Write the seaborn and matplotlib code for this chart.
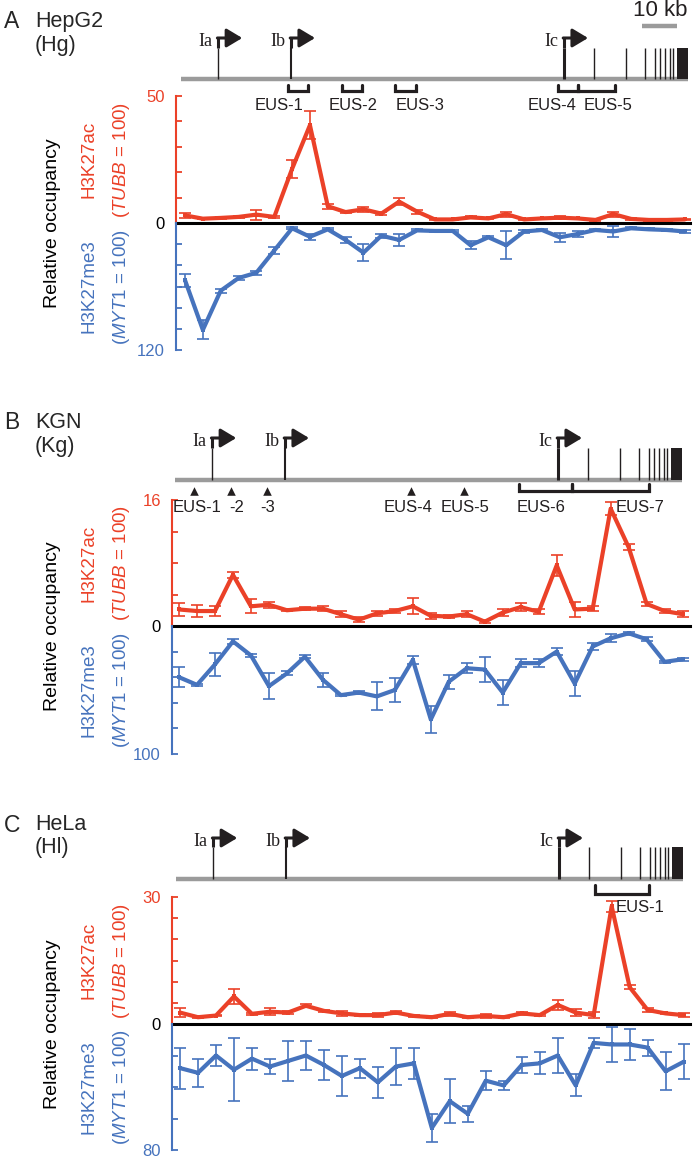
# H3K27ac / H3K27me3 occupancy along the locus in three cell lines (HepG2, KGN, HeLa).

import numpy as np
import matplotlib
matplotlib.use('Agg')
import matplotlib.pyplot as plt
from matplotlib.patches import Rectangle
import seaborn as sns

RED = '#EB4128'
BLUE = '#4673BD'
GRAY = '#9B9B9B'
INK = '#231F20'

W, H = 696, 1159

# ── data ─────────────────────────────────────────────────────────────────
probe = np.arange(1, 30)

hg_ac = [3.0, 1.7, 2.0, 2.4, 3.3, 2.4, 21.3, 38.5, 6.6, 4.3, 5.4, 3.7, 8.4, 4.5, 1.4,
         1.4, 2.2, 1.8, 3.5, 1.4, 1.8, 2.1, 1.8, 1.2, 3.5, 1.6, 1.2, 1.2, 1.4]
hg_ac_err = [1.0, 0.3, 0.3, 0.3, 2.0, 0.4, 3.4, 5.5, 1.0, 0.3, 1.0, 0.5, 1.3, 0.8, 0.3,
             0.3, 0.4, 0.3, 1.0, 0.3, 0.3, 0.5, 0.3, 0.3, 1.0, 0.3, 0.3, 0.3, 0.3]
hg_me3 = [54, 101, 64, 52, 47, 26, 5, 13, 6, 16, 28, 12, 16, 7, 7.5,
          7.5, 21, 13.5, 21, 8, 6.6, 13.5, 10.4, 6.6, 8, 5, 6, 6.6, 8]
hg_me3_err = [6, 9, 2, 2, 2, 3, 1, 3, 1, 3, 8, 2, 6, 1, 1,
              1, 4, 1, 13, 1, 1, 4, 3, 1, 5, 1, 1, 1, 1]

kg_ac = [2.1, 1.9, 1.9, 6.5, 2.5, 2.7, 2.0, 2.2, 2.2, 1.5, 0.8, 1.6, 1.9, 2.5, 1.3,
         1.2, 1.5, 0.55, 1.7, 2.4, 1.8, 7.7, 2.1, 2.2, 14.9, 10.0, 2.8, 1.9, 1.5]
kg_ac_err = [0.8, 0.8, 0.6, 0.4, 0.9, 0.4, 0.1, 0.2, 0.3, 0.4, 0.3, 0.3, 0.2, 1.0, 0.4,
             0.2, 0.4, 0.2, 0.4, 0.5, 0.3, 1.3, 0.9, 0.3, 0.8, 0.4, 0.3, 0.2, 0.4]
kg_me3 = [40, 46, 30, 12, 23, 47, 37, 24, 42, 54, 52, 55, 50, 26.5, 73,
          43.5, 33, 34, 52, 29, 29, 20, 45, 16, 9.6, 5.7, 10.4, 28, 26]
kg_me3_err = [8, 1, 9, 2, 1, 10, 1.5, 1, 5.5, 1, 1.5, 11, 9, 3, 10.5,
              5.5, 4, 10, 10, 3, 3, 3, 10, 3, 3, 1, 1.5, 1, 1]

hl_ac = [2.7, 1.6, 2.0, 6.5, 2.4, 2.9, 2.7, 4.3, 3.1, 2.5, 2.1, 2.1, 2.7, 1.9, 1.6,
         2.4, 1.6, 1.9, 1.6, 2.5, 2.1, 4.5, 2.7, 2.1, 27.8, 8.7, 3.3, 2.5, 2.1]
hl_ac_err = [1.0, 0.2, 0.2, 1.8, 0.3, 0.8, 0.3, 0.4, 0.3, 0.5, 0.2, 0.4, 0.3, 0.2, 0.2,
             0.5, 0.2, 0.4, 0.2, 0.3, 0.2, 1.1, 0.8, 0.8, 1.3, 0.5, 0.4, 0.2, 0.4]
hl_me3 = [28, 31, 20, 29, 22, 27, 23.5, 20, 26, 33, 28, 37, 27, 25, 66,
          49, 57, 36, 39, 26, 25, 20, 39, 12, 13, 13, 15, 30, 24]
hl_me3_err = [13, 9, 6.5, 20, 7, 5, 13, 9.5, 9.5, 13, 6, 10, 12, 10, 9,
              14, 5, 6, 3, 5, 7, 11, 7, 3, 11, 10, 5, 12, 11]

# gene model, kb from the start of the drawn locus
first_exons = ['Ia', 'Ib', 'Ic']
first_exon_kb = [10.6, 31.4, 109.4]
exon_kb = [118.0, 127.1, 132.6, 135.4, 136.9, 138.3, 139.6, 140.7]
last_exon_kb = (141.7, 144.9)
locus_end_kb = 144.9

# amplicon regions (EUS) per cell line
hg_brackets = [(30.6, 36.3), (46.0, 51.7), (61.1, 67.1), (107.7, 113.4), (113.4, 124.0)]
hg_labels = ['EUS-1', 'EUS-2', 'EUS-3', 'EUS-4', 'EUS-5']
hg_label_kb = [28.0, 49.1, 68.3, 106.0, 122.0]

kg_triangles_kb = [5.4, 16.0, 26.3, 67.4, 82.6]
kg_brackets = [(98.3, 113.4), (113.4, 135.4)]
kg_labels = ['EUS-1', '-2', '-3', 'EUS-4', 'EUS-5', 'EUS-6', 'EUS-7']
kg_label_kb = [6.3, 17.7, 26.6, 66.6, 82.9, 104.6, 132.9]

hl_brackets = [(119.7, 135.1)]
hl_labels = ['EUS-1']
hl_label_kb = [132.6]

PX_PER_KB = 3.5

# ── layout (figure pixels) ───────────────────────────────────────────────
panels = [
    dict(letter='A', cell='HepG2', abbr='(Hg)',
         ac=hg_ac, ac_err=hg_ac_err, me=hg_me3, me_err=hg_me3_err,
         ac_max=50, ac_step=10, me_max=120, me_step=20,
         left=176, right=690, top=96, zero=223, bottom=350,
         gene_x0=181, band=(0, 125), y_title=21, y_abbr=45, y_hook=38,
         y_exon=48, y_gene=79, y_br=(85, 91), y_lab=105, y_tri=None,
         brackets=hg_brackets, labels=hg_labels, label_kb=hg_label_kb,
         triangles=None, scale_bar=True),
    dict(letter='B', cell='KGN', abbr='(Kg)',
         ac=kg_ac, ac_err=kg_ac_err, me=kg_me3, me_err=kg_me3_err,
         ac_max=16, ac_step=4, me_max=100, me_step=20,
         left=172, right=690, top=500, zero=626, bottom=754,
         gene_x0=175, band=(400, 525), y_title=423, y_abbr=446, y_hook=438,
         y_exon=448, y_gene=480, y_br=(484, 491), y_lab=508, y_tri=491,
         brackets=kg_brackets, labels=kg_labels, label_kb=kg_label_kb,
         triangles=kg_triangles_kb, scale_bar=False),
    dict(letter='C', cell='HeLa', abbr='(Hl)',
         ac=hl_ac, ac_err=hl_ac_err, me=hl_me3, me_err=hl_me3_err,
         ac_max=30, ac_step=5, me_max=80, me_step=20,
         left=172, right=690, top=897, zero=1024, bottom=1150,
         gene_x0=176, band=(810, 925), y_title=825, y_abbr=848, y_hook=838,
         y_exon=847, y_gene=879, y_br=(885, 894), y_lab=908, y_tri=None,
         brackets=hl_brackets, labels=hl_labels, label_kb=hl_label_kb,
         triangles=None, scale_bar=False),
]

sns.set_theme(style='white')
plt.rcParams['font.family'] = ['Liberation Sans', 'DejaVu Sans']
plt.rcParams['mathtext.fontset'] = 'custom'
plt.rcParams['mathtext.rm'] = 'Liberation Sans'
plt.rcParams['mathtext.it'] = 'Liberation Sans:italic'

fig = plt.figure(figsize=(W / 100, H / 100), dpi=100)
fig.patch.set_facecolor('white')


def fx(px):
    return px / W


def fy(py):
    return 1 - py / H


def style_axis(ax, color):
    for s in ['top', 'right', 'bottom']:
        ax.spines[s].set_visible(False)
    ax.spines['left'].set_color(color)
    ax.spines['left'].set_linewidth(1.5)
    ax.set_xticks([])
    ax.set_xlabel('')
    ax.set_ylabel('')
    ax.set_facecolor('none')
    ax.tick_params(axis='y', direction='in', length=4, width=1.3, color=color,
                   labelsize=12, pad=8, left=True)


for p in panels:
    w = (p['right'] - p['left']) / W
    spacing = (p['right'] - p['left']) / 28.8
    x_lo = 1 - (p['gene_x0'] + 4 - p['left']) / spacing
    x_hi = x_lo + 28.8

    # 1. H3K27ac (upper half)
    ax_ac = fig.add_axes([fx(p['left']), fy(p['zero']), w, (p['zero'] - p['top']) / H])
    sns.lineplot(x=probe, y=p['ac'], ax=ax_ac, color=RED, linewidth=3.0,
                 marker='s', markersize=3.5, markeredgewidth=0, legend=False)
    ax_ac.errorbar(probe, p['ac'], yerr=p['ac_err'], fmt='none', ecolor=RED,
                   elinewidth=1.2, capsize=4, capthick=1.2)
    ax_ac.set_xlim(x_lo, x_hi)
    ax_ac.set_ylim(0, p['ac_max'])
    style_axis(ax_ac, RED)
    ac_ticks = np.arange(0, p['ac_max'] + 1, p['ac_step'])
    ax_ac.set_yticks(ac_ticks)
    ax_ac.set_yticklabels(['0'] + [''] * (len(ac_ticks) - 2) + [str(p['ac_max'])])
    ax_ac.get_yticklabels()[0].set_color('black')
    ax_ac.get_yticklabels()[-1].set_color(RED)
    ax_ac.spines['bottom'].set_visible(True)
    ax_ac.spines['bottom'].set_color('black')
    ax_ac.spines['bottom'].set_linewidth(2.2)
    ax_ac.spines['bottom'].set_zorder(5)

    # 2. H3K27me3 (lower half, inverted)
    ax_me = fig.add_axes([fx(p['left']), fy(p['bottom']), w, (p['bottom'] - p['zero']) / H])
    sns.lineplot(x=probe, y=p['me'], ax=ax_me, color=BLUE, linewidth=3.0,
                 marker='s', markersize=3.5, markeredgewidth=0, legend=False)
    ax_me.errorbar(probe, p['me'], yerr=p['me_err'], fmt='none', ecolor=BLUE,
                   elinewidth=1.2, capsize=4, capthick=1.2)
    ax_me.set_xlim(x_lo, x_hi)
    ax_me.set_ylim(p['me_max'], 0)
    style_axis(ax_me, BLUE)
    me_ticks = np.arange(p['me_step'], p['me_max'] + 1, p['me_step'])
    ax_me.set_yticks(me_ticks)
    ax_me.set_yticklabels([''] * (len(me_ticks) - 1) + [str(p['me_max'])])
    ax_me.get_yticklabels()[-1].set_color(BLUE)

    # 3. axis titles
    mid_ac = (p['top'] + p['zero']) / 2
    mid_me = (p['zero'] + p['bottom']) / 2
    fig.text(fx(53), fy(p['zero']), 'Relative occupancy', rotation=90,
             ha='center', va='center', fontsize=14, color='black')
    fig.text(fx(89), fy(mid_ac), 'H3K27ac', rotation=90,
             ha='center', va='center', fontsize=13.5, color=RED)
    fig.text(fx(121), fy(mid_ac), r'($\it{TUBB}$ = 100)', rotation=90,
             ha='center', va='center', fontsize=13.5, color=RED)
    fig.text(fx(89), fy(mid_me), 'H3K27me3', rotation=90,
             ha='center', va='center', fontsize=13.5, color=BLUE)
    fig.text(fx(121), fy(mid_me), r'($\it{MYT1}$ = 100)', rotation=90,
             ha='center', va='center', fontsize=13.5, color=BLUE)

    # 4. panel letter and cell line
    fig.text(fx(4), fy(p['y_title']), p['letter'], ha='left', va='center', fontsize=16.5)
    fig.text(fx(35), fy(p['y_title']), p['cell'], ha='left', va='center', fontsize=15.5)
    fig.text(fx(35), fy(p['y_abbr']), p['abbr'], ha='left', va='center', fontsize=15.5)

    # 5. gene schematic
    b0, b1 = p['band']
    ax_s = fig.add_axes([0, fy(b1), 1, (b1 - b0) / H])
    ax_s.set_xlim(-p['gene_x0'] / PX_PER_KB, (W - p['gene_x0']) / PX_PER_KB)
    ax_s.set_ylim(b1, b0)
    ax_s.axis('off')
    ax_s.set_facecolor('none')

    ax_s.plot([0, locus_end_kb], [p['y_gene']] * 2, color=GRAY, lw=3.2,
              solid_capstyle='butt', zorder=1)
    ax_s.vlines(exon_kb, p['y_exon'], p['y_gene'], color=INK, lw=1.0, zorder=2)
    ax_s.add_patch(Rectangle((last_exon_kb[0], p['y_exon']),
                             last_exon_kb[1] - last_exon_kb[0],
                             p['y_gene'] - p['y_exon'], color=INK, lw=0, zorder=2))
    for name, pos, lw in zip(first_exons, first_exon_kb, [1.0, 1.5, 2.2]):
        ax_s.vlines(pos, p['y_exon'], p['y_gene'], color=INK, lw=lw, zorder=2)
        ax_s.plot([pos, pos], [p['y_exon'], p['y_hook']], color=INK, lw=2.2,
                  solid_capstyle='butt')
        ax_s.annotate('', xy=(pos + 6.9, p['y_hook']), xytext=(pos - 0.2, p['y_hook']),
                      arrowprops=dict(arrowstyle='-|>,head_length=0.45,head_width=0.27',
                                      lw=2.2, color=INK, shrinkA=0, shrinkB=0,
                                      mutation_scale=21))
        ax_s.text(pos - 1.6, p['y_hook'] + 3, name, ha='right', va='center',
                  fontsize=13, family=['Liberation Serif', 'DejaVu Serif'], color=INK)

    y_top, y_bot = p['y_br']
    for k0, k1 in p['brackets']:
        ax_s.plot([k0, k0, k1, k1], [y_top, y_bot, y_bot, y_top], color=INK, lw=2.3,
                  solid_joinstyle='miter')
    if p['triangles'] is not None:
        ax_s.scatter(p['triangles'], [p['y_tri']] * len(p['triangles']),
                     marker='^', s=38, color=INK, linewidths=0)
    for lab, k in zip(p['labels'], p['label_kb']):
        ax_s.text(k, p['y_lab'], lab, ha='center', va='center', fontsize=12, color=INK)

    if p['scale_bar']:
        ax_s.plot([131.7, 141.7], [26, 26], color=GRAY, lw=3.2, solid_capstyle='butt')
        ax_s.text(136.9, 11, '10 kb', ha='center', va='center', fontsize=16, color=INK)

plt.savefig('out.png', dpi=100, facecolor='white')
plt.close()
